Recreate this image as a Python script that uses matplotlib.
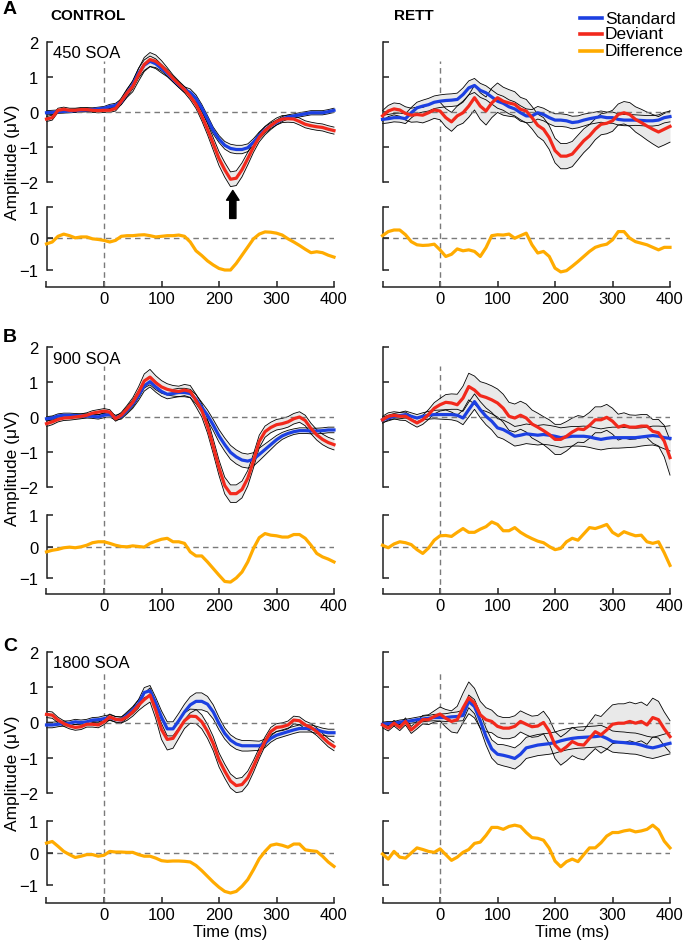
import numpy as np
import matplotlib
matplotlib.use('Agg')
import matplotlib.pyplot as plt
from matplotlib.lines import Line2D

plt.rcParams['font.family'] = ['Liberation Sans', 'DejaVu Sans']
plt.rcParams['font.size'] = 12

# time grid (ms), one sample every 10 ms
times = np.arange(-100, 401, 10)

# ---- row A : 450 SOA ----
ctl_a_std = [-0.03, -0.02, 0.00, 0.01, 0.02, 0.03, 0.04, 0.05, 0.06, 0.08,
             0.10, 0.15, 0.18, 0.28, 0.53, 0.77, 1.10, 1.33, 1.44, 1.37,
             1.23, 1.10, 0.93, 0.77, 0.63, 0.55, 0.38, 0.11, -0.21, -0.54,
             -0.78, -0.96, -1.05, -1.08, -1.08, -1.03, -0.87, -0.68, -0.52, -0.40,
             -0.31, -0.21, -0.15, -0.12, -0.09, -0.06, -0.03, -0.03, -0.03, 0.00,
             0.04]
ctl_a_std_sem = [0.06, 0.06, 0.05, 0.05, 0.05, 0.05, 0.05, 0.05, 0.05, 0.05,
                 0.05, 0.06, 0.06, 0.08, 0.10, 0.12, 0.14, 0.15, 0.15, 0.14,
                 0.12, 0.10, 0.08, 0.08, 0.08, 0.10, 0.10, 0.10, 0.10, 0.10,
                 0.10, 0.11, 0.12, 0.12, 0.12, 0.11, 0.10, 0.10, 0.09, 0.08,
                 0.07, 0.07, 0.06, 0.06, 0.06, 0.06, 0.06, 0.06, 0.06, 0.06,
                 0.06]
ctl_a_dev = [-0.21, -0.17, 0.04, 0.07, 0.04, 0.04, 0.06, 0.06, 0.04, 0.03,
             0.04, 0.04, 0.09, 0.30, 0.53, 0.72, 1.05, 1.35, 1.49, 1.44,
             1.31, 1.14, 0.95, 0.79, 0.63, 0.44, 0.21, -0.12, -0.50, -0.92,
             -1.34, -1.66, -1.93, -1.90, -1.66, -1.34, -1.01, -0.73, -0.54, -0.40,
             -0.28, -0.21, -0.20, -0.21, -0.28, -0.36, -0.40, -0.43, -0.45, -0.50,
             -0.54]
ctl_a_dev_sem = [0.07, 0.07, 0.06, 0.06, 0.06, 0.06, 0.06, 0.06, 0.06, 0.06,
                 0.06, 0.06, 0.07, 0.09, 0.12, 0.15, 0.18, 0.20, 0.20, 0.18,
                 0.15, 0.12, 0.10, 0.09, 0.09, 0.10, 0.12, 0.14, 0.16, 0.18,
                 0.20, 0.21, 0.21, 0.21, 0.20, 0.18, 0.15, 0.13, 0.12, 0.11,
                 0.10, 0.10, 0.10, 0.10, 0.10, 0.10, 0.10, 0.10, 0.10, 0.10,
                 0.10]
ctl_a_diff = [-0.18, -0.12, 0.06, 0.13, 0.08, 0.01, 0.04, 0.04, -0.02, -0.04,
              -0.07, -0.12, -0.07, 0.06, 0.08, 0.08, 0.10, 0.11, 0.08, 0.04,
              0.06, 0.08, 0.08, 0.10, 0.06, -0.12, -0.40, -0.55, -0.72, -0.85,
              -0.96, -1.01, -1.01, -0.80, -0.54, -0.28, -0.02, 0.13, 0.20, 0.19,
              0.16, 0.10, -0.02, -0.12, -0.23, -0.35, -0.46, -0.43, -0.46, -0.54,
              -0.60]

rett_a_std = [-0.22, -0.20, -0.17, -0.17, -0.20, -0.03, 0.11, 0.16, 0.20, 0.27,
              0.30, 0.32, 0.33, 0.35, 0.49, 0.68, 0.75, 0.61, 0.54, 0.42,
              0.30, 0.24, 0.14, 0.08, -0.03, -0.12, -0.12, -0.03, -0.08, -0.17,
              -0.24, -0.24, -0.26, -0.31, -0.29, -0.24, -0.20, -0.17, -0.14, -0.17,
              -0.17, -0.22, -0.24, -0.24, -0.24, -0.25, -0.26, -0.26, -0.24, -0.17,
              -0.14]
rett_a_std_sem = [0.12, 0.12, 0.12, 0.13, 0.14, 0.15, 0.16, 0.17, 0.18, 0.18,
                  0.18, 0.18, 0.18, 0.18, 0.19, 0.20, 0.20, 0.20, 0.20, 0.20,
                  0.20, 0.20, 0.20, 0.20, 0.20, 0.20, 0.18, 0.18, 0.18, 0.18,
                  0.18, 0.18, 0.18, 0.18, 0.17, 0.17, 0.16, 0.16, 0.16, 0.16,
                  0.16, 0.16, 0.16, 0.16, 0.15, 0.15, 0.15, 0.15, 0.15, 0.15,
                  0.15]
rett_a_dev = [-0.12, 0.02, 0.08, 0.05, -0.05, -0.10, -0.08, -0.10, -0.03, 0.05,
              0.02, -0.17, -0.29, -0.12, -0.03, 0.16, 0.40, 0.16, 0.02, 0.25,
              0.40, 0.30, 0.25, 0.21, 0.07, 0.02, -0.17, -0.39, -0.50, -0.74,
              -1.11, -1.27, -1.27, -1.21, -1.02, -0.83, -0.69, -0.50, -0.36, -0.33,
              -0.26, -0.08, -0.03, -0.08, -0.22, -0.31, -0.41, -0.50, -0.58, -0.50,
              -0.42]
rett_a_dev_sem = [0.15, 0.16, 0.17, 0.18, 0.19, 0.20, 0.21, 0.22, 0.23, 0.24,
                  0.25, 0.26, 0.27, 0.28, 0.30, 0.32, 0.35, 0.38, 0.40, 0.42,
                  0.42, 0.40, 0.38, 0.36, 0.34, 0.33, 0.32, 0.32, 0.33, 0.34,
                  0.35, 0.36, 0.36, 0.36, 0.35, 0.34, 0.32, 0.30, 0.30, 0.30,
                  0.30, 0.30, 0.32, 0.34, 0.36, 0.38, 0.40, 0.42, 0.44, 0.45,
                  0.45]
rett_a_diff = [0.08, 0.21, 0.26, 0.26, 0.11, -0.11, -0.21, -0.23, -0.22, -0.19,
               -0.37, -0.58, -0.51, -0.34, -0.40, -0.37, -0.42, -0.58, -0.30, 0.08,
               0.11, 0.10, 0.13, 0.00, 0.08, 0.16, -0.21, -0.47, -0.42, -0.58,
               -0.95, -1.07, -1.03, -0.89, -0.74, -0.58, -0.42, -0.29, -0.23, -0.19,
               -0.05, 0.21, 0.21, 0.00, -0.11, -0.16, -0.21, -0.29, -0.37, -0.29,
               -0.29]

# ---- row B : 900 SOA ----
ctl_b_std = [-0.05, -0.03, 0.03, 0.05, 0.05, 0.04, 0.03, 0.03, 0.02, 0.00,
             0.05, 0.07, -0.02, 0.02, 0.19, 0.37, 0.61, 0.89, 1.01, 0.86,
             0.73, 0.65, 0.67, 0.70, 0.70, 0.67, 0.51, 0.28, 0.05, -0.23,
             -0.54, -0.79, -1.01, -1.14, -1.23, -1.26, -1.21, -1.07, -0.93, -0.79,
             -0.65, -0.54, -0.47, -0.42, -0.39, -0.39, -0.40, -0.40, -0.39, -0.37,
             -0.37]
ctl_b_std_sem = [0.06, 0.06, 0.06, 0.06, 0.06, 0.06, 0.06, 0.06, 0.06, 0.06,
                 0.07, 0.07, 0.07, 0.08, 0.10, 0.12, 0.14, 0.15, 0.15, 0.15,
                 0.14, 0.13, 0.12, 0.12, 0.12, 0.12, 0.13, 0.14, 0.15, 0.16,
                 0.18, 0.19, 0.20, 0.20, 0.20, 0.20, 0.19, 0.18, 0.16, 0.14,
                 0.12, 0.10, 0.09, 0.08, 0.08, 0.08, 0.08, 0.08, 0.08, 0.08,
                 0.08]
ctl_b_dev = [-0.19, -0.14, -0.07, -0.03, -0.02, 0.00, 0.02, 0.05, 0.11, 0.14,
             0.17, 0.14, -0.05, 0.05, 0.23, 0.42, 0.70, 1.03, 1.14, 0.98,
             0.86, 0.79, 0.75, 0.73, 0.77, 0.73, 0.47, 0.19, -0.26, -0.84,
             -1.45, -1.96, -2.19, -2.19, -2.07, -1.75, -1.25, -0.70, -0.42, -0.30,
             -0.22, -0.19, -0.14, -0.05, 0.00, -0.10, -0.33, -0.51, -0.64, -0.73,
             -0.79]
ctl_b_dev_sem = [0.08, 0.08, 0.07, 0.07, 0.07, 0.07, 0.07, 0.07, 0.07, 0.07,
                 0.07, 0.07, 0.07, 0.08, 0.10, 0.13, 0.16, 0.20, 0.22, 0.20,
                 0.18, 0.16, 0.15, 0.15, 0.16, 0.17, 0.18, 0.19, 0.20, 0.21,
                 0.22, 0.24, 0.25, 0.25, 0.24, 0.22, 0.20, 0.18, 0.16, 0.15,
                 0.15, 0.15, 0.15, 0.15, 0.15, 0.15, 0.15, 0.15, 0.15, 0.15,
                 0.15]
ctl_b_diff = [-0.17, -0.12, -0.09, -0.04, -0.02, -0.04, -0.01, 0.04, 0.12, 0.15,
              0.15, 0.10, 0.04, 0.00, -0.01, 0.02, 0.00, -0.02, 0.10, 0.17,
              0.23, 0.26, 0.15, 0.15, 0.10, -0.17, -0.30, -0.30, -0.49, -0.70,
              -0.91, -1.11, -1.13, -1.00, -0.81, -0.49, -0.06, 0.28, 0.41, 0.36,
              0.34, 0.30, 0.30, 0.38, 0.38, 0.26, 0.04, -0.22, -0.33, -0.40,
              -0.49]

rett_b_std = [-0.08, -0.03, 0.02, 0.04, 0.07, 0.02, -0.03, 0.02, 0.05, 0.07,
              0.07, 0.07, 0.07, 0.05, -0.03, 0.21, 0.44, 0.21, 0.02, -0.12,
              -0.31, -0.36, -0.45, -0.55, -0.52, -0.48, -0.50, -0.52, -0.50, -0.52,
              -0.55, -0.59, -0.57, -0.55, -0.55, -0.55, -0.57, -0.61, -0.64, -0.61,
              -0.59, -0.59, -0.59, -0.59, -0.59, -0.57, -0.55, -0.53, -0.55, -0.59,
              -0.61]
rett_b_std_sem = [0.08, 0.08, 0.08, 0.09, 0.10, 0.10, 0.10, 0.10, 0.11, 0.12,
                  0.13, 0.14, 0.15, 0.17, 0.19, 0.21, 0.22, 0.23, 0.24, 0.25,
                  0.26, 0.27, 0.28, 0.28, 0.28, 0.28, 0.28, 0.28, 0.28, 0.28,
                  0.28, 0.28, 0.28, 0.28, 0.28, 0.29, 0.30, 0.30, 0.30, 0.30,
                  0.30, 0.30, 0.29, 0.28, 0.27, 0.26, 0.26, 0.27, 0.29, 0.32,
                  0.36]
rett_b_dev = [-0.08, 0.02, 0.05, 0.02, 0.02, -0.08, -0.17, -0.08, 0.07, 0.25,
              0.35, 0.42, 0.40, 0.35, 0.54, 0.87, 0.77, 0.61, 0.56, 0.49,
              0.40, 0.25, 0.02, -0.03, 0.05, -0.03, -0.20, -0.29, -0.39, -0.50,
              -0.64, -0.64, -0.55, -0.43, -0.34, -0.36, -0.24, -0.08, -0.08, -0.01,
              -0.12, -0.29, -0.24, -0.29, -0.29, -0.26, -0.26, -0.41, -0.45, -0.69,
              -1.16]
rett_b_dev_sem = [0.10, 0.10, 0.10, 0.11, 0.12, 0.12, 0.12, 0.13, 0.14, 0.16,
                  0.18, 0.22, 0.26, 0.30, 0.34, 0.38, 0.40, 0.40, 0.40, 0.40,
                  0.40, 0.40, 0.40, 0.40, 0.40, 0.40, 0.40, 0.40, 0.40, 0.42,
                  0.43, 0.43, 0.42, 0.40, 0.38, 0.37, 0.37, 0.37, 0.37, 0.37,
                  0.37, 0.37, 0.36, 0.35, 0.34, 0.33, 0.33, 0.34, 0.38, 0.45,
                  0.50]
rett_b_diff = [0.04, -0.04, 0.08, 0.15, 0.12, 0.06, -0.10, -0.22, -0.05, 0.20,
               0.34, 0.35, 0.32, 0.45, 0.57, 0.45, 0.45, 0.55, 0.63, 0.78,
               0.70, 0.50, 0.50, 0.60, 0.45, 0.34, 0.25, 0.17, 0.12, 0.00,
               -0.10, -0.06, 0.15, 0.26, 0.20, 0.40, 0.60, 0.57, 0.63, 0.70,
               0.45, 0.34, 0.47, 0.40, 0.34, 0.36, 0.15, 0.10, 0.15, -0.20,
               -0.60]

# ---- row C : 1800 SOA ----
ctl_c_std = [-0.07, -0.07, -0.05, -0.03, -0.02, 0.02, 0.00, 0.02, 0.07, 0.08,
             0.11, 0.14, 0.09, 0.07, 0.21, 0.35, 0.53, 0.85, 0.90, 0.55,
             0.15, -0.18, -0.18, 0.05, 0.30, 0.50, 0.60, 0.60, 0.52, 0.30,
             -0.03, -0.31, -0.50, -0.61, -0.66, -0.66, -0.66, -0.66, -0.59, -0.45,
             -0.36, -0.31, -0.26, -0.21, -0.17, -0.17, -0.17, -0.21, -0.26, -0.29,
             -0.29]
ctl_c_std_sem = [0.08, 0.08, 0.07, 0.07, 0.07, 0.07, 0.07, 0.07, 0.07, 0.07,
                 0.08, 0.08, 0.08, 0.08, 0.09, 0.10, 0.12, 0.14, 0.15, 0.16,
                 0.18, 0.20, 0.20, 0.21, 0.22, 0.23, 0.24, 0.24, 0.22, 0.20,
                 0.18, 0.16, 0.15, 0.15, 0.15, 0.15, 0.14, 0.13, 0.12, 0.11,
                 0.10, 0.10, 0.10, 0.10, 0.10, 0.10, 0.10, 0.10, 0.10, 0.10,
                 0.10]
ctl_c_dev = [0.23, 0.21, 0.07, -0.03, -0.10, -0.14, -0.12, -0.05, -0.05, -0.07,
             0.02, 0.16, 0.09, 0.07, 0.16, 0.30, 0.49, 0.65, 0.78, 0.35,
             -0.20, -0.48, -0.45, -0.20, 0.05, 0.18, 0.17, 0.02, -0.25, -0.60,
             -1.06, -1.38, -1.66, -1.79, -1.76, -1.57, -1.24, -0.87, -0.54, -0.26,
             -0.14, -0.12, -0.07, 0.07, 0.05, -0.07, -0.14, -0.26, -0.42, -0.57,
             -0.68]
ctl_c_dev_sem = [0.09, 0.09, 0.08, 0.08, 0.08, 0.08, 0.08, 0.08, 0.08, 0.08,
                 0.08, 0.08, 0.08, 0.09, 0.10, 0.12, 0.15, 0.18, 0.20, 0.24,
                 0.28, 0.30, 0.28, 0.25, 0.22, 0.20, 0.20, 0.20, 0.20, 0.20,
                 0.20, 0.20, 0.20, 0.20, 0.20, 0.19, 0.17, 0.15, 0.13, 0.12,
                 0.11, 0.11, 0.11, 0.11, 0.11, 0.11, 0.11, 0.11, 0.11, 0.12,
                 0.12]
ctl_c_diff = [0.31, 0.36, 0.21, 0.05, -0.05, -0.14, -0.10, -0.05, -0.05, -0.10,
              -0.07, 0.05, 0.03, 0.03, 0.02, 0.02, -0.05, -0.10, -0.10, -0.16,
              -0.24, -0.26, -0.25, -0.25, -0.26, -0.28, -0.39, -0.55, -0.73, -0.91,
              -1.07, -1.20, -1.25, -1.20, -1.04, -0.83, -0.52, -0.18, 0.05, 0.24,
              0.28, 0.24, 0.18, 0.28, 0.28, 0.10, 0.07, 0.05, -0.10, -0.28,
              -0.42]

rett_c_std = [-0.05, -0.03, -0.03, 0.01, 0.03, 0.05, 0.08, 0.10, 0.12, 0.14,
              0.14, 0.14, 0.16, 0.17, 0.20, 0.60, 0.45, 0.05, -0.40, -0.75,
              -0.90, -0.93, -0.97, -1.02, -0.90, -0.72, -0.68, -0.64, -0.62, -0.60,
              -0.57, -0.52, -0.48, -0.45, -0.43, -0.42, -0.41, -0.40, -0.38, -0.45,
              -0.54, -0.56, -0.57, -0.59, -0.60, -0.64, -0.69, -0.72, -0.68, -0.63,
              -0.59]
rett_c_std_sem = [0.06, 0.06, 0.06, 0.06, 0.06, 0.07, 0.07, 0.08, 0.08, 0.09,
                  0.10, 0.11, 0.12, 0.13, 0.15, 0.18, 0.20, 0.22, 0.24, 0.26,
                  0.28, 0.30, 0.30, 0.30, 0.30, 0.30, 0.30, 0.30, 0.30, 0.30,
                  0.30, 0.30, 0.30, 0.30, 0.30, 0.30, 0.30, 0.30, 0.30, 0.30,
                  0.30, 0.30, 0.30, 0.30, 0.30, 0.30, 0.30, 0.30, 0.30, 0.30,
                  0.30]
rett_c_dev = [-0.07, -0.16, -0.02, -0.14, 0.03, -0.21, -0.07, 0.08, 0.08, 0.17,
              0.24, 0.12, 0.03, 0.08, 0.41, 0.70, 0.55, 0.22, 0.08, 0.03,
              -0.11, -0.16, -0.16, -0.11, 0.03, -0.05, -0.12, -0.10, 0.00, -0.25,
              -0.64, -0.81, -0.69, -0.54, -0.62, -0.64, -0.45, -0.26, -0.35, -0.21,
              -0.05, -0.02, -0.02, 0.03, -0.02, 0.03, -0.07, 0.14, 0.08, -0.18,
              -0.40]
rett_c_dev_sem = [0.08, 0.08, 0.08, 0.09, 0.10, 0.10, 0.11, 0.12, 0.14, 0.16,
                  0.20, 0.25, 0.30, 0.38, 0.42, 0.45, 0.42, 0.38, 0.34, 0.32,
                  0.30, 0.30, 0.30, 0.30, 0.30, 0.30, 0.30, 0.30, 0.32, 0.35,
                  0.38, 0.40, 0.40, 0.40, 0.40, 0.42, 0.45, 0.48, 0.52, 0.55,
                  0.55, 0.55, 0.55, 0.55, 0.55, 0.55, 0.55, 0.55, 0.52, 0.48,
                  0.45]
rett_c_diff = [-0.03, -0.19, 0.05, -0.13, -0.16, 0.00, 0.16, 0.11, 0.05, 0.02,
               0.13, -0.05, -0.23, -0.13, 0.02, 0.11, 0.30, 0.34, 0.55, 0.80,
               0.80, 0.74, 0.83, 0.87, 0.83, 0.64, 0.48, 0.46, 0.40, 0.15,
               -0.25, -0.43, -0.27, -0.19, -0.27, -0.05, 0.16, 0.16, 0.32, 0.53,
               0.64, 0.64, 0.69, 0.72, 0.66, 0.69, 0.74, 0.87, 0.72, 0.37,
               0.16]

soa_labels = ['450 SOA', '900 SOA', '1800 SOA']
panel_letters = ['A', 'B', 'C']
group_titles = ['CONTROL', 'RETT']
legend_labels = ['Standard', 'Deviant', 'Difference']
x_ticks = [-100, 0, 100, 200, 300, 400]
x_ticklabels = ['', '0', '100', '200', '300', '400']

panels = [
    [(ctl_a_std, ctl_a_std_sem, ctl_a_dev, ctl_a_dev_sem, ctl_a_diff),
     (rett_a_std, rett_a_std_sem, rett_a_dev, rett_a_dev_sem, rett_a_diff)],
    [(ctl_b_std, ctl_b_std_sem, ctl_b_dev, ctl_b_dev_sem, ctl_b_diff),
     (rett_b_std, rett_b_std_sem, rett_b_dev, rett_b_dev_sem, rett_b_diff)],
    [(ctl_c_std, ctl_c_std_sem, ctl_c_dev, ctl_c_dev_sem, ctl_c_diff),
     (rett_c_std, rett_c_std_sem, rett_c_dev, rett_c_dev_sem, rett_c_diff)],
]

BLUE = '#1c40e2'
RED = '#f2291c'
ORANGE = '#ffab00'
BAND = '#e9e9e9'
DASH = '#7a7a7a'

W, H = 685, 945
fig = plt.figure(figsize=(W / 100, H / 100), dpi=100)


def rect(l, t, r, b):
    return [l / W, 1 - b / H, (r - l) / W, (b - t) / H]


cols_px = [(46.5, 334), (382.5, 670)]
# erp top, erp bottom, diff top, diff bottom, x axis line
rows_px = [(42.7, 182.7, 207.7, 270.7, 288),
           (348, 488, 516, 579, 595),
           (653, 794, 822, 886, 904)]
letter_y = [9, 337, 647]


def left_bracket(ax, ticks, show_labels):
    for s in ['top', 'right', 'bottom']:
        ax.spines[s].set_visible(False)
    ax.spines['left'].set_linewidth(1.1)
    ax.spines['left'].set_color('#222222')
    ax.set_xticks([])
    ax.set_yticks(ticks)
    ax.tick_params(axis='y', direction='in', length=4, width=1.1, pad=6,
                   labelsize=12, labelleft=show_labels, color='#222222')
    ax.patch.set_visible(False)


for r, (erp_t, erp_b, dif_t, dif_b, ax_y) in enumerate(rows_px):
    for c, (xl, xr) in enumerate(cols_px):
        std, std_sem, dev, dev_sem, diff = [np.array(v) for v in panels[r][c]]

        # base axes: time axis and the vertical stimulus-onset line
        base = fig.add_axes(rect(xl, erp_t, xr, ax_y), zorder=0)
        base.set_xlim(-100, 400)
        base.set_ylim(0, 1)
        for s in ['top', 'right', 'left']:
            base.spines[s].set_visible(False)
        base.spines['bottom'].set_linewidth(1.1)
        base.spines['bottom'].set_color('#222222')
        base.set_yticks([])
        base.set_xticks(x_ticks)
        base.set_xticklabels(x_ticklabels)
        base.tick_params(axis='x', direction='in', length=4, width=1.1, pad=3,
                         labelsize=12, color='#222222')
        line_top = erp_t + (2 - 1.45) / 4 * (erp_b - erp_t)
        base.axvline(0, ymin=0, ymax=(ax_y - line_top) / (ax_y - erp_t),
                     color=DASH, lw=1, ls=(0, (4, 3)))
        base.patch.set_visible(False)

        # ERP axes
        ax = fig.add_axes(rect(xl, erp_t, xr, erp_b), zorder=2)
        ax.set_xlim(-100, 400)
        ax.set_ylim(-2, 2)
        left_bracket(ax, [-2, -1, 0, 1, 2], c == 0)
        for m, s in [(std, std_sem), (dev, dev_sem)]:
            ax.fill_between(times, m - s, m + s, color=BAND, lw=0, zorder=1,
                            clip_on=False)
        for m, s in [(std, std_sem), (dev, dev_sem)]:
            ax.plot(times, m - s, color='k', lw=0.6, zorder=2, clip_on=False)
            ax.plot(times, m + s, color='k', lw=0.6, zorder=2, clip_on=False)
        ax.axhline(0, color=DASH, lw=1, ls=(0, (4, 3)), zorder=3)
        ax.plot(times, std, color=BLUE, lw=2.3, zorder=4, clip_on=False)
        ax.plot(times, dev, color=RED, lw=2.3, zorder=5, clip_on=False)

        if c == 0:
            ax.text(53 / W, 1 - (erp_t + 11) / H, soa_labels[r],
                    transform=fig.transFigure, fontsize=12, va='center', ha='left')
        if r == 0 and c == 0:
            ax.annotate('', xy=(224, -2.25), xytext=(224, -3.05),
                        arrowprops=dict(facecolor='black', edgecolor='black',
                                        width=4.5, headwidth=9, headlength=7),
                        annotation_clip=False)

        # difference axes
        dx = fig.add_axes(rect(xl, dif_t, xr, dif_b), zorder=2)
        dx.set_xlim(-100, 400)
        dx.set_ylim(-1, 1)
        left_bracket(dx, [-1, 0, 1], c == 0)
        dx.axhline(0, color=DASH, lw=1, ls=(0, (4, 3)), zorder=1)
        dx.plot(times, diff, color=ORANGE, lw=2.3, zorder=3, clip_on=False)

    fig.text(3 / W, 1 - letter_y[r] / H, panel_letters[r], fontsize=14,
             fontweight='bold', va='center', ha='left')
    fig.text(12 / W, 1 - (erp_t + 120) / H, 'Amplitude (μV)', rotation=90,
             fontsize=12.5, va='center', ha='center')

# column headers
fig.text(50 / W, 1 - 16 / H, group_titles[0], fontsize=11, fontweight='bold',
         va='center', ha='left')
fig.text(394 / W, 1 - 16 / H, group_titles[1], fontsize=11, fontweight='bold',
         va='center', ha='left')

# x labels
fig.text(230 / W, 1 - 933 / H, 'Time (ms)', fontsize=12, va='center', ha='center')
fig.text(572 / W, 1 - 933 / H, 'Time (ms)', fontsize=12, va='center', ha='center')

# legend
for lab, col, yy in zip(legend_labels, [BLUE, RED, ORANGE], [19, 35, 52]):
    fig.add_artist(Line2D([580 / W, 602 / W], [1 - yy / H, 1 - yy / H],
                          color=col, lw=2.6, transform=fig.transFigure))
    fig.text(605 / W, 1 - yy / H, lab, fontsize=12.5, va='center', ha='left')

fig.savefig('out.png', dpi=100)
